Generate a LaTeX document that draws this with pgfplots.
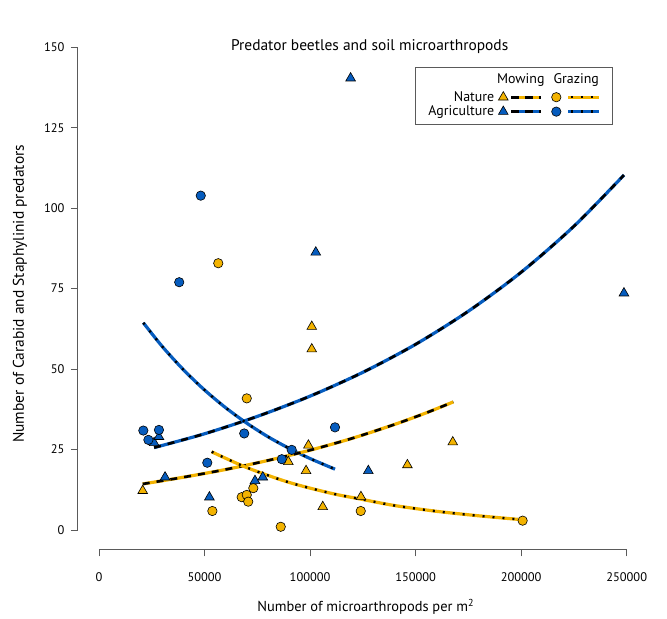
\documentclass[border=0pt]{standalone}
\usepackage{pgfplots}
\pgfplotsset{compat=1.18}
\usepackage{pgfplotstable}
\usepackage{fontspec}
\setmainfont{PT Sans}
\definecolor{yel}{RGB}{243,179,0}
\definecolor{blu}{RGB}{6,92,190}
\definecolor{axgray}{RGB}{90,90,90}

% Nature, mowing (triangles)
\pgfplotstableread{
x y
20700 12.2
89700 21.2
98100 18.4
99200 26.3
100800 63.2
100800 56.2
106000 7.2
124100 10.3
146100 20.2
167600 27.3
}\natmow
% Nature, grazing (circles)
\pgfplotstableread{
x y
56500 82.9
70000 40.9
73100 13.0
67600 10.2
70000 10.9
70700 8.8
53700 5.9
86100 1.0
124000 5.9
200700 2.9
}\natgraz
% Agriculture, mowing (triangles)
\pgfplotstableread{
x y
119200 140.4
102700 86.3
248700 73.6
26100 27.1
28400 29.0
31300 16.4
52300 10.2
73900 15.3
77600 16.4
127600 18.4
}\agrmow
% Agriculture, grazing (circles)
\pgfplotstableread{
x y
48200 103.9
38000 77.0
21000 30.9
28400 31.1
23400 28.0
68800 30.0
111800 31.9
91300 24.9
86600 22.0
51300 20.9
}\agrgraz
% fitted curves
\pgfplotstableread{
x y
26100 25.6
50000 29.9
75000 35.3
100000 41.6
125000 49.0
150000 57.7
175000 68.0
200000 80.1
225000 94.4
248700 110.3
}\fitagrmow
\pgfplotstableread{
x y
20990 64.4
30000 57.0
40000 49.8
50000 43.5
60000 38.0
70000 33.2
80000 29.0
90000 25.4
100000 22.2
111810 18.9
}\fitagrgraz
\pgfplotstableread{
x y
20700 14.3
40000 16.4
60000 18.8
80000 21.6
100000 24.8
120000 28.5
140000 32.8
155000 36.4
167860 39.8
}\fitnatmow
\pgfplotstableread{
x y
53380 24.3
70000 19.4
90000 14.8
110000 11.4
124000 9.6
140000 7.6
160000 5.8
180000 4.4
198650 3.3
}\fitnatgraz

\tikzset{
  colline/.style={line width=3.2bp, line cap=butt},
  dashline/.style={black, line width=2.6bp, dash pattern=on 7bp off 7bp, line cap=butt},
  dotline/.style={black, line width=2.4bp, dash pattern=on 2bp off 8bp, line cap=butt},
}

\begin{document}
\begin{tikzpicture}
\path[use as bounding box] (-77.9bp,-69.7bp) rectangle (589.1bp,549.3bp);
\begin{axis}[
  at={(0,0)}, anchor=south west,
  scale only axis,
  width=569.9bp, height=521.3bp,
  xmin=-10000, xmax=260000, ymin=-6, ymax=156,
  axis lines*=left,
  separate axis lines,
  axis line style={axgray, line width=0.8bp},
  x axis line style={shorten <=21.1bp, shorten >=21.1bp},
  y axis line style={shorten <=19.3bp, shorten >=19.3bp},
  xtick={0,50000,100000,150000,200000,250000},
  ytick={0,25,50,75,100,125,150},
  tick align=outside,
  major tick length=7bp,
  tick style={axgray, line width=0.8bp},
  scaled x ticks=false,
  /pgf/number format/assume math mode=true,
  x tick label style={/pgf/number format/fixed, /pgf/number format/1000 sep={}, yshift=-13bp, font=\fontsize{12.5}{15}\selectfont},
  y tick label style={xshift=-3bp, font=\fontsize{12.5}{15}\selectfont},
  title={Predator beetles and soil microarthropods},
  title style={at={(axis description cs:0.512,0.952)}, anchor=center, font=\fontsize{15.5}{18}\selectfont},
  xlabel={Number of microarthropods per m\textsuperscript{2}},
  xlabel style={at={(axis description cs:0.505,-0.111)}, anchor=center, font=\fontsize{14.5}{17}\selectfont},
  ylabel={Number of Carabid and Staphylinid predators},
  ylabel style={at={(axis description cs:-0.1016,0.49)}, anchor=center, font=\fontsize{15.5}{17}\selectfont},
  legend columns=2,
  legend plot pos=right,
  legend cell align=right,
  legend style={at={(axis description cs:0.9384,0.9258)}, anchor=north east,
    draw=axgray, line width=0.8bp, font=\fontsize{14}{16}\selectfont,
    inner xsep=11bp, inner ysep=6bp, row sep=0bp,
    nodes={inner ysep=1.5bp, inner xsep=2bp},
    /tikz/every even column/.append style={column sep=0bp}},
]
% points
\addplot[only marks, mark=triangle*, mark size=5.6bp, mark options={fill=yel, draw=black, line width=0.6bp}, forget plot] table[x=x,y=y] {\natmow};
\addplot[only marks, mark=*, mark size=4.7bp, mark options={fill=yel, draw=black, line width=0.6bp}, forget plot] table[x=x,y=y] {\natgraz};
\addplot[only marks, mark=triangle*, mark size=5.6bp, mark options={fill=blu, draw=black, line width=0.6bp}, forget plot] table[x=x,y=y] {\agrmow};
\addplot[only marks, mark=*, mark size=4.7bp, mark options={fill=blu, draw=black, line width=0.6bp}, forget plot] table[x=x,y=y] {\agrgraz};
% curves
\addplot[blu, colline, no marks, smooth, forget plot] table[x=x,y=y] {\fitagrmow};
\addplot[dashline, no marks, smooth, forget plot] table[x=x,y=y] {\fitagrmow};
\addplot[blu, colline, no marks, smooth, forget plot] table[x=x,y=y] {\fitagrgraz};
\addplot[dotline, no marks, smooth, forget plot] table[x=x,y=y] {\fitagrgraz};
\addplot[yel, colline, no marks, smooth, forget plot] table[x=x,y=y] {\fitnatmow};
\addplot[dashline, no marks, smooth, forget plot] table[x=x,y=y] {\fitnatmow};
\addplot[yel, colline, no marks, smooth, forget plot] table[x=x,y=y] {\fitnatgraz};
\addplot[dotline, no marks, smooth, forget plot] table[x=x,y=y] {\fitnatgraz};
% legend
\addlegendimage{legend image code/.code={
  \path[draw=none, fill=none] (-2bp,-7bp) rectangle (47bp,8bp);
  \node[draw=none, inner sep=0pt, anchor=base] at (22.5bp,0bp) {Mowing};}}
\addlegendentry{}
\addlegendimage{legend image code/.code={
  \path[draw=none, fill=none] (-2bp,-7bp) rectangle (50bp,8bp);
  \node[draw=none, inner sep=0pt, anchor=base] at (25bp,0bp) {Grazing};}}
\addlegendentry{}
\addlegendimage{legend image code/.code={
  \path[draw=none, fill=none] (-2bp,-5bp) rectangle (47bp,5bp);
  \draw[yel, colline] (13bp,0) -- (43bp,0);
  \draw[dashline, dash pattern=on 8bp off 6bp] (13bp,0) -- (43bp,0);
  \draw[fill=yel, draw=black, line width=0.6bp] plot[mark=triangle*, mark size=5.6bp] coordinates {(5bp,0)};}}
\addlegendentry{Nature}
\addlegendimage{legend image code/.code={
  \path[draw=none, fill=none] (-2bp,-5bp) rectangle (50bp,5bp);
  \draw[yel, colline] (17bp,0) -- (48bp,0);
  \draw[dotline] (20bp,0) -- (48bp,0);
  \draw[fill=yel, draw=black, line width=0.6bp] plot[mark=*, mark size=4.7bp] coordinates {(5bp,0)};}}
\addlegendentry{}
\addlegendimage{legend image code/.code={
  \path[draw=none, fill=none] (-2bp,-5bp) rectangle (47bp,5bp);
  \draw[blu, colline] (13bp,0) -- (43bp,0);
  \draw[dashline, dash pattern=on 8bp off 6bp] (13bp,0) -- (43bp,0);
  \draw[fill=blu, draw=black, line width=0.6bp] plot[mark=triangle*, mark size=5.6bp] coordinates {(5bp,0)};}}
\addlegendentry{Agriculture}
\addlegendimage{legend image code/.code={
  \path[draw=none, fill=none] (-2bp,-5bp) rectangle (50bp,5bp);
  \draw[blu, colline] (17bp,0) -- (48bp,0);
  \draw[dotline] (20bp,0) -- (48bp,0);
  \draw[fill=blu, draw=black, line width=0.6bp] plot[mark=*, mark size=4.7bp] coordinates {(5bp,0)};}}
\addlegendentry{}
\end{axis}
\end{tikzpicture}
\end{document}
